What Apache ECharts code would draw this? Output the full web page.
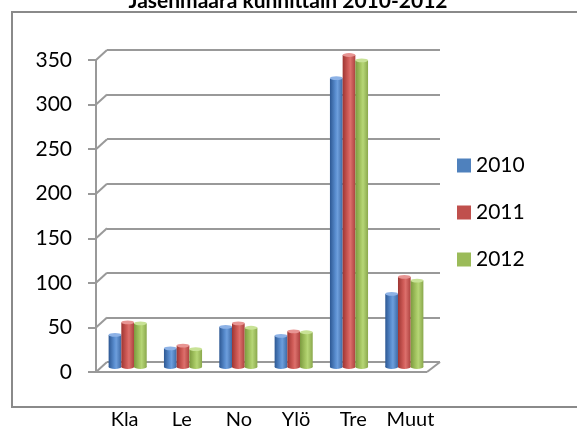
<!DOCTYPE html>
<html><head><meta charset="utf-8">
<script src="https://cdn.jsdelivr.net/npm/echarts@6/dist/echarts.min.js"></script>
<style>html,body{margin:0;padding:0;background:#fff}#c{width:577px;height:434px}</style>
</head><body><div id="c"></div>
<script>
const categories = ['Kla', 'Le', 'No', 'Ylö', 'Tre', 'Muut'];
const years = ['2010', '2011', '2012'];
const v2010 = [36, 21, 45, 35, 324, 82];
const v2011 = [50, 24, 49, 40, 350, 101];
const v2012 = [49, 20, 44, 39, 344, 97];
const yTicks = [0, 50, 100, 150, 200, 250, 300, 350];
const titleText = 'Jäsenmäärä kunnittain 2010-2012';

const FONT = 'Lato';
const baseCol = ['#4F81BD', '#C0504D', '#9BBB59'];
const grad = [
  ['#2d5893', '#5b8fd1', '#6d9edc', '#3d6aa6'],
  ['#9e3532', '#d25e5a', '#dc706c', '#ad423f'],
  ['#7c9a3f', '#a8c965', '#b6d676', '#8aa84c']
];
const topCol = ['#8db2e6', '#e89593', '#c8e296'];

const chart = echarts.init(document.getElementById('c'), null, {renderer: 'canvas'});

function barSeries(k, vals) {
  return {
    name: years[k],
    type: 'custom',
    xAxisIndex: 2, yAxisIndex: 2,
    itemStyle: {color: baseCol[k]},
    z: 5,
    data: vals.map((v, i) => [i, v]),
    renderItem: function (params, api) {
      const c = api.value(0), v = api.value(1);
      const top = api.coord([c, v]);
      const base = api.coord([c, 0]);
      const bw = 12.7;
      const cx = top[0] + (k - 1) * bw;
      const x = cx - bw / 2;
      const g = grad[k];
      const fill = new echarts.graphic.LinearGradient(0, 0, 1, 0, [
        {offset: 0, color: g[0]}, {offset: 0.45, color: g[1]},
        {offset: 0.6, color: g[2]}, {offset: 1, color: g[3]}
      ]);
      return {
        type: 'group',
        children: [
          {type: 'circle', x: cx, y: base[1], scaleY: 0.3, shape: {cx: 0, cy: 0, r: bw / 2}, style: {fill: fill}},
          {type: 'rect', shape: {x: x, y: top[1], width: bw, height: base[1] - top[1]}, style: {fill: fill}},
          {type: 'circle', x: cx, y: top[1], scaleY: 0.3, shape: {cx: 0, cy: 0, r: bw / 2}, style: {fill: topCol[k]}}
        ]
      };
    }
  };
}

const lineStyle = {stroke: '#999999', lineWidth: 2};

const frameSeries = {
  type: 'custom',
  xAxisIndex: 2, yAxisIndex: 2,
  silent: true,
  z: 2,
  data: yTicks.map(t => [0, t]),
  renderItem: function (params, api) {
    const cs = params.coordSys;
    const t = api.value(1);
    const y = api.coord([0, t])[1];
    const fx = cs.x - 4, bx = cs.x + 7;
    const children = [
      {type: 'line', shape: {x1: fx, y1: y + 5, x2: bx, y2: y - 5}, style: lineStyle}
    ];
    if (t === 0) {
      const rx = cs.x + cs.width;
      children.push({type: 'line', shape: {x1: fx, y1: y + 5, x2: rx - 5, y2: y + 5}, style: lineStyle});
      children.push({type: 'line', shape: {x1: rx - 5, y1: y + 5, x2: rx + 8, y2: y - 5}, style: lineStyle});
    }
    return {type: 'group', children: children};
  }
};

chart.setOption({
  animation: false,
  title: {
    text: titleText, left: 283, top: -14, textAlign: 'center',
    textStyle: {fontFamily: FONT, fontSize: 21, fontWeight: 'bold', color: '#000'}
  },
  graphic: [{
    type: 'rect', shape: {x: 12, y: 12, width: 620, height: 395},
    style: {fill: 'none', stroke: '#8a8a8a', lineWidth: 2}, z: 0
  }],
  legend: {
    orient: 'vertical', left: 452, top: 150,
    data: years, icon: 'rect', itemWidth: 14, itemHeight: 14, itemGap: 26,
    textStyle: {fontFamily: FONT, fontSize: 21, color: '#000', padding: [0, 0, 0, 0]}
  },
  grid: [
    {left: 96, right: 138, top: 60, bottom: 62},
    {left: 107, right: 137, top: 50, bottom: 72},
    {left: 100, right: 145, top: 55, bottom: 67}
  ],
  xAxis: [
    {gridIndex: 0, type: 'category', data: categories, axisLine: {show: false}, axisTick: {show: false},
     axisLabel: {interval: 0, hideOverlap: false, margin: 38, fontFamily: FONT, fontSize: 20, color: '#000'}},
    {gridIndex: 1, type: 'category', data: categories, show: false},
    {gridIndex: 2, type: 'category', data: categories, show: false}
  ],
  yAxis: [
    {gridIndex: 0, type: 'value', min: 0, max: 350, interval: 50,
     axisLine: {show: true, lineStyle: {color: '#999', width: 2}},
     axisTick: {show: true, length: 8, lineStyle: {color: '#999', width: 2}},
     splitLine: {show: false},
     axisLabel: {margin: 24, fontFamily: FONT, fontSize: 21, color: '#000'}},
    {gridIndex: 1, type: 'value', min: 0, max: 350, interval: 50,
     axisLine: {show: false}, axisTick: {show: false}, axisLabel: {show: false},
     splitLine: {show: true, lineStyle: {color: '#999', width: 2}}},
    {gridIndex: 2, type: 'value', min: 0, max: 350, interval: 50, show: false}
  ],
  series: [frameSeries, barSeries(0, v2010), barSeries(1, v2011), barSeries(2, v2012)]
});
</script></body></html>
